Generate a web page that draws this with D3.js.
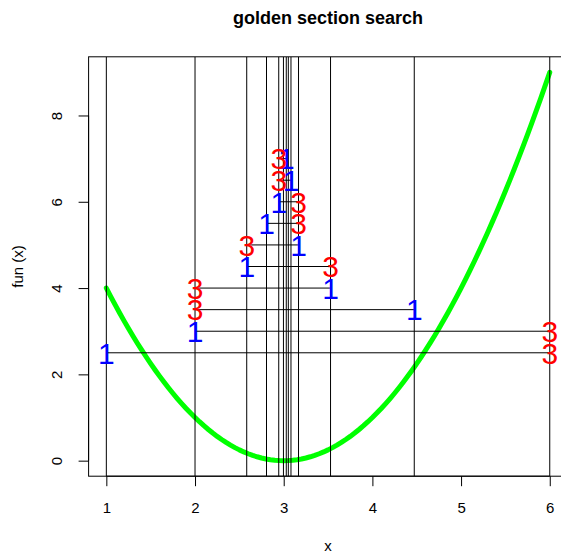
<!DOCTYPE html>
<html>
<head>
<meta charset="utf-8">
<script src="https://cdn.jsdelivr.net/npm/d3@7"></script>
<style>
  html, body { margin: 0; padding: 0; background: #fff; }
  svg { display: block; }
  svg text { font-family: "Liberation Sans", Arial, Helvetica, sans-serif; }
</style>
</head>
<body>
<svg id="chart" width="561" height="557"></svg>
<script>
// Objective being minimised
const fun = x => (x - 3) * (x - 3);
const curveRange = [1, 6];

// Golden section search trace: one row per iteration
const levels = [2.5, 3, 3.5, 4, 4.5, 5, 5.5, 6, 6.5, 7];
const point1 = [1, 2, 4.472, 3.528, 2.583, 3.167, 2.806, 2.944, 3.082, 3.029];
const point3 = [6, 6, 2, 2, 3.528, 2.583, 3.167, 3.167, 2.944, 2.944];

// Every x at which the function was evaluated
const probes = [1, 2, 6, 3.528, 4.472, 2.944, 2.583, 3.167, 2.806, 3.029, 3.082, 2.997, 3.052];

// Axis ticks
const xTicks = [1, 2, 3, 4, 5, 6];
const yTicks = [0, 2, 4, 6, 8];

const FONT = "'Liberation Sans', Arial, Helvetica, sans-serif";
const svg = d3.select("#chart");
const plot = { left: 88.6, right: 567.5, top: 56.8, bottom: 476.2 };

const x = d3.scaleLinear().domain([0.8, 6.2]).range([plot.left, plot.right]);
const y = d3.scaleLinear().domain([-0.36, 9.36]).range([plot.bottom, plot.top]);

svg.append("clipPath").attr("id", "plotclip")
  .append("rect")
  .attr("x", plot.left).attr("y", plot.top)
  .attr("width", plot.right - plot.left).attr("height", plot.bottom - plot.top);

const inner = svg.append("g").attr("clip-path", "url(#plotclip)");

// Objective curve
const curvePts = d3.range(0, 101).map(i => {
  const xv = curveRange[0] + (curveRange[1] - curveRange[0]) * i / 100;
  return [xv, fun(xv)];
});
inner.append("path")
  .datum(curvePts)
  .attr("fill", "none")
  .attr("stroke", "#00ff00")
  .attr("stroke-width", 5)
  .attr("stroke-linecap", "round")
  .attr("stroke-linejoin", "round")
  .attr("d", d3.line().x(d => x(d[0])).y(d => y(d[1])));

// Vertical lines at evaluated points
inner.selectAll("line.probe")
  .data(probes)
  .join("line")
  .attr("class", "probe")
  .attr("x1", d => x(d)).attr("x2", d => x(d))
  .attr("y1", plot.top).attr("y2", plot.bottom)
  .attr("stroke", "#000").attr("stroke-width", 1);

// Bracket at each iteration
const rows = levels.map((lv, i) => ({ lv, p1: point1[i], p3: point3[i] }));
inner.selectAll("line.bracket")
  .data(rows)
  .join("line")
  .attr("class", "bracket")
  .attr("x1", d => x(d.p1)).attr("x2", d => x(d.p3))
  .attr("y1", d => y(d.lv)).attr("y2", d => y(d.lv))
  .attr("stroke", "#000").attr("stroke-width", 1);

const labelSize = 30;
const labelDy = labelSize * 0.358;
svg.selectAll("text.p1")
  .data(rows)
  .join("text")
  .attr("class", "p1")
  .attr("x", d => x(d.p1)).attr("y", d => y(d.lv) + labelDy)
  .attr("text-anchor", "middle")
  .attr("font-family", FONT)
  .attr("font-size", labelSize)
  .attr("fill", "#0000ff")
  .text("1");
svg.selectAll("text.p3")
  .data(rows)
  .join("text")
  .attr("class", "p3")
  .attr("x", d => x(d.p3)).attr("y", d => y(d.lv) + labelDy)
  .attr("text-anchor", "middle")
  .attr("font-family", FONT)
  .attr("font-size", labelSize)
  .attr("fill", "#ff0000")
  .text("3");

// Frame
svg.append("rect")
  .attr("x", plot.left).attr("y", plot.top)
  .attr("width", plot.right - plot.left).attr("height", plot.bottom - plot.top)
  .attr("fill", "none").attr("stroke", "#000").attr("stroke-width", 1);

// Axes
const xAxis = d3.axisBottom(x).tickValues(xTicks).tickSize(10).tickPadding(16)
  .tickFormat(d3.format("d"));
const gx = svg.append("g").attr("transform", `translate(0,${plot.bottom})`).call(xAxis);
gx.select(".domain").attr("d", `M${x(1)},0H${x(6)}`);

const yAxis = d3.axisLeft(y).tickValues(yTicks).tickSize(10).tickPadding(0)
  .tickFormat(d3.format("d"));
const gy = svg.append("g").attr("transform", `translate(${plot.left},0)`).call(yAxis);
gy.select(".domain").attr("d", `M0,${y(0)}V${y(8)}`);
gy.selectAll(".tick text")
  .attr("x", null).attr("dy", null)
  .attr("text-anchor", "middle")
  .attr("transform", "translate(-27,0) rotate(-90)")
  .attr("y", 0);

svg.selectAll("g").attr("font-family", FONT);
svg.selectAll(".tick text").attr("font-size", 15).attr("font-family", FONT).attr("fill", "#000");
svg.selectAll(".tick line").attr("stroke", "#000");
svg.selectAll(".domain").attr("stroke", "#000");

// Titles
svg.append("text")
  .attr("x", (plot.left + plot.right) / 2).attr("y", 24)
  .attr("text-anchor", "middle")
  .attr("font-family", FONT)
  .attr("font-size", 18).attr("font-weight", "bold")
  .text("golden section search");
svg.append("text")
  .attr("x", (plot.left + plot.right) / 2).attr("y", 551)
  .attr("text-anchor", "middle")
  .attr("font-family", FONT)
  .attr("font-size", 15)
  .text("x");
svg.append("text")
  .attr("transform", `translate(23,${(plot.top + plot.bottom) / 2}) rotate(-90)`)
  .attr("text-anchor", "middle")
  .attr("font-family", FONT)
  .attr("font-size", 15)
  .text("fun (x)");
</script>
</body>
</html>
